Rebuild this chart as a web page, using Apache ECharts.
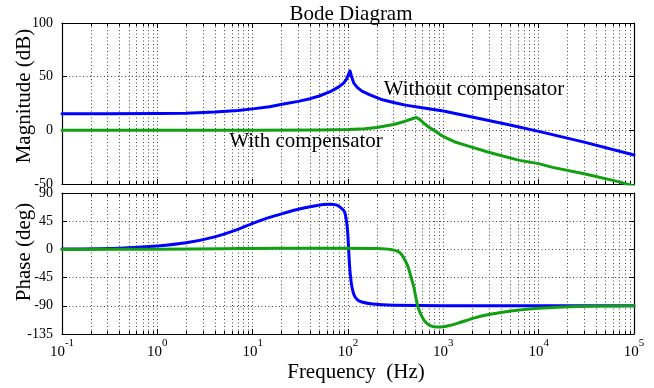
<!DOCTYPE html>
<html><head><meta charset="utf-8">
<script src="https://cdn.jsdelivr.net/npm/echarts@6/dist/echarts.min.js"></script>
<style>html,body{margin:0;padding:0;background:#fff}#c{width:654px;height:388px}</style>
</head><body><div id="c"></div><script>
const FONT = '"Liberation Serif", "Times New Roman", serif';

// ---- data (frequency in Hz) ----
const magFreqBlue = [0.1, 0.3, 1, 2, 4, 7, 10, 15, 21, 30, 40, 50, 65, 80, 90, 97, 101, 105, 109, 115, 125, 140, 170, 220, 300, 400, 600, 1000, 2000, 5000, 10000, 30000, 100000];
const magBlue     = [15.5, 15.5, 15.6, 16, 17, 18.5, 20, 22, 24.5, 27, 29.5, 32, 36, 40.5, 44, 48, 52, 55.5, 50, 44, 40, 36.5, 33, 29, 26, 23.5, 21, 18, 12.5, 5, -1, -11, -23];

const magFreqGreen = [0.1, 1, 10, 50, 100, 150, 200, 300, 400, 480, 520, 560, 620, 700, 800, 940, 1100, 1300, 1800, 2870, 4000, 6300, 10000, 14000, 30000, 70000, 100000];
const magGreen     = [0, 0, 0, 0.2, 0.8, 1.5, 2.7, 5.5, 8.5, 11, 12, 10.5, 7, 3, 0, -4.4, -7.5, -10.6, -14.5, -20, -23.5, -28, -31, -34.5, -40.5, -48, -52];

const phFreqBlue = [0.1, 0.4, 1, 2, 4, 7, 10, 15, 21, 30, 43, 55, 65, 75, 85, 92, 97, 100, 103, 106, 110, 116, 125, 140, 180, 300, 1000, 100000];
const phBlue     = [0.5, 2, 5.5, 10.5, 20, 32, 41.5, 51, 57.5, 64, 69, 71.5, 72, 71, 66, 60, 42, 20, -17, -42, -60, -73, -80, -84, -87, -89, -90, -90];

const phFreqGreen = [0.1, 1, 5, 10, 30, 100, 200, 280, 350, 420, 460, 490, 520, 545, 600, 660, 740, 850, 1000, 1400, 2040, 3000, 4700, 7500, 10000, 21000, 50000, 100000];
const phGreen     = [0, 0.3, 1, 1.5, 1.8, 1.8, 1.5, 0, -5, -25, -45, -60, -80, -93, -108, -117, -122, -124, -123.5, -118, -110, -104, -99, -95.5, -94, -91.4, -90.3, -90];

const xTickExponents = [-1, 0, 1, 2, 3, 4, 5];
const magRange = [-50, 100], magStep = 50;
const phRange = [-135, 90], phStep = 45;

// ---- helpers ----
const toXY = (fs, vs) => fs.map((f, i) => [Math.log10(f), vs[i]]);
const minorFreqs = [];
for (let n = xTickExponents[0]; n < xTickExponents[xTickExponents.length - 1]; n++)
  for (let k = 2; k <= 9; k++) minorFreqs.push(k * Math.pow(10, n));

const GL = 62, GW = 572;
const grids = [
  {left: GL, top: 23, width: GW, height: 161},
  {left: GL, top: 193, width: GW, height: 141}
];

const dotted = {color: '#444', width: 1, type: [1, 2.5]};

function xAx(gi, position, labels) {
  return {
    type: 'value', gridIndex: gi, position,
    min: xTickExponents[0], max: xTickExponents[xTickExponents.length - 1], interval: 1,
    axisLine: {show: true, onZero: false, lineStyle: {color: '#000', width: 1.2}},
    axisTick: {show: true, inside: true, length: 5, lineStyle: {color: '#000'}},
    axisLabel: labels ? {
      show: true, margin: 4,
      formatter: v => '{b|10}{s|' + Math.round(v) + '}',
      rich: {
        b: {fontFamily: FONT, fontSize: 15, color: '#000', lineHeight: 22, verticalAlign: 'bottom'},
        s: {fontFamily: FONT, fontSize: 11, color: '#000', lineHeight: 12, verticalAlign: 'top'}
      }
    } : {show: false},
    splitLine: {show: position === 'bottom', lineStyle: dotted}
  };
}
function yAx(gi, position, range, step, labels) {
  return {
    type: 'value', gridIndex: gi, position, min: range[0], max: range[1], interval: step,
    axisLine: {show: true, onZero: false, lineStyle: {color: '#000', width: 1.2}},
    axisTick: {show: true, inside: true, length: 5, lineStyle: {color: '#000'}},
    axisLabel: labels ? {show: true, margin: 9, fontFamily: FONT, fontSize: 14, color: '#000'} : {show: false},
    splitLine: {show: position === 'left', lineStyle: dotted}
  };
}
function minorSeries(xi, yi) {
  return {
    type: 'custom', xAxisIndex: xi, yAxisIndex: yi, silent: true, z: 1,
    encode: {x: 0, y: 1},
    data: minorFreqs.map(f => [Math.log10(f), 0]),
    renderItem(params, api) {
      const cs = params.coordSys;
      const x = Math.round(api.coord([api.value(0), 0])[0]) + 0.5;
      const y0 = cs.y, y1 = cs.y + cs.height;
      return {type: 'group', children: [
        {type: 'line', shape: {x1: x, y1: y0, x2: x, y2: y1}, style: {stroke: '#444', lineWidth: 1, lineDash: [1, 2.5]}},
        {type: 'line', shape: {x1: x, y1: y1 - 3, x2: x, y2: y1}, style: {stroke: '#000', lineWidth: 1}},
        {type: 'line', shape: {x1: x, y1: y0, x2: x, y2: y0 + 3}, style: {stroke: '#000', lineWidth: 1}}
      ]};
    }
  };
}
function lineSeries(xi, yi, data, color, smooth) {
  return {
    type: 'line', xAxisIndex: xi, yAxisIndex: yi, data, showSymbol: false, symbol: 'none',
    smooth: smooth, clip: true, z: 5,
    lineStyle: {color, width: 3, join: 'round', cap: 'round'}
  };
}

const BLUE = '#0000ff', GREEN = '#12a012';
const txt = (text, x, y, size, rot) => ({
  type: 'text', x, y, rotation: rot || 0, z: 10,
  style: {text, fontFamily: FONT, fontSize: size, fill: '#000', align: 'center', verticalAlign: 'middle'}
});

const chart = echarts.init(document.getElementById('c'), null, {renderer: 'canvas'});
chart.setOption({
  animation: false,
  backgroundColor: '#fff',
  grid: grids,
  xAxis: [xAx(0, 'bottom', false), xAx(0, 'top', false), xAx(1, 'bottom', true), xAx(1, 'top', false)],
  yAxis: [yAx(0, 'left', magRange, magStep, true), yAx(0, 'right', magRange, magStep, false),
          yAx(1, 'left', phRange, phStep, true), yAx(1, 'right', phRange, phStep, false)],
  series: [
    minorSeries(0, 0), minorSeries(2, 2),
    lineSeries(0, 0, toXY(magFreqBlue, magBlue), BLUE, false),
    lineSeries(0, 0, toXY(magFreqGreen, magGreen), GREEN, false),
    lineSeries(2, 2, toXY(phFreqBlue, phBlue), BLUE, 0.2),
    lineSeries(2, 2, toXY(phFreqGreen, phGreen), GREEN, 0.2)
  ],
  graphic: [
    txt('Bode Diagram', 351, 14, 21),
    txt('Magnitude (dB)', 24, 96, 21, Math.PI / 2),
    txt('Phase (deg)', 24, 252, 21, Math.PI / 2),
    txt('Frequency  (Hz)', 356, 372, 21),
    txt('Without compensator', 474, 89, 21),
    txt('With compensator', 306, 141, 21)
  ]
});
</script></body></html>
